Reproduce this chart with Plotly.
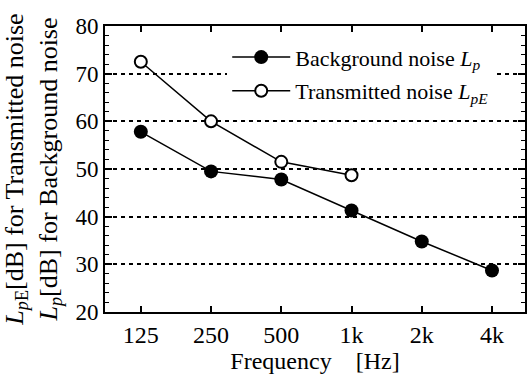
import plotly.graph_objects as go

freq_labels = ["125", "250", "500", "1k", "2k", "4k"]
background_noise = [57.8, 49.5, 47.8, 41.3, 34.8, 28.7]
transmitted_freqs = ["125", "250", "500", "1k"]
transmitted_noise = [72.5, 60.0, 51.5, 48.7]

FONT = "Liberation Serif, DejaVu Serif"

fig = go.Figure()
fig.add_trace(go.Scatter(
    x=freq_labels, y=background_noise, mode="lines+markers",
    name="Background noise <i>L<sub>p</sub></i>", legendgroup="bg",
    line=dict(color="black", width=1.5),
    marker=dict(symbol="circle", size=14, color="black"),
))
fig.add_trace(go.Scatter(
    x=transmitted_freqs, y=transmitted_noise, mode="lines+markers",
    name="Transmitted noise <i>L<sub>pE</sub></i>", legendgroup="tr",
    line=dict(color="black", width=1.5),
    marker=dict(symbol="circle", size=12, color="white", line=dict(color="black", width=2)),
))

fig.update_layout(
    width=527, height=375,
    margin=dict(l=105, r=0, t=26, b=63),
    plot_bgcolor="white", paper_bgcolor="white",
    font=dict(family=FONT, color="black", size=22),
    showlegend=True,
    legend=dict(
        x=0.291, y=0.964, xanchor="left", yanchor="top",
        bgcolor="white", borderwidth=0,
        font=dict(family=FONT, size=22, color="black"),
        itemwidth=58, tracegroupgap=2,
    ),
    xaxis=dict(
        type="category", categoryorder="array", categoryarray=freq_labels,
        range=[-0.51, 5.47],
        showline=True, linecolor="black", linewidth=2, mirror="ticks",
        ticks="inside", ticklen=6, tickwidth=1.5, tickcolor="black",
        showgrid=False, zeroline=False,
        tickfont=dict(family=FONT, size=24),
        title=dict(text="Frequency\u00a0\u00a0\u00a0\u00a0[Hz]", font=dict(family=FONT, size=24), standoff=2),
    ),
    yaxis=dict(
        range=[20, 80], dtick=10,
        showline=True, linecolor="black", linewidth=2, mirror="ticks",
        ticks="inside", ticklen=7, tickwidth=1.5, tickcolor="black",
        minor=dict(dtick=2, ticks="inside", ticklen=4, tickwidth=1, tickcolor="black"),
        showgrid=True, gridcolor="black", gridwidth=1.5, griddash="4px,4px",
        zeroline=False,
        tickfont=dict(family=FONT, size=23),
        title=dict(
            text="<i>L<sub>p</sub></i><sub>E</sub>[dB] for Transmitted noise<br><i>L<sub>p</sub></i>[dB] for Background noise",
            font=dict(family=FONT, size=26), standoff=13,
        ),
    ),
)

fig.write_html("out.html", config={"displayModeBar": False},
               post_script="document.body.style.margin='0';")
